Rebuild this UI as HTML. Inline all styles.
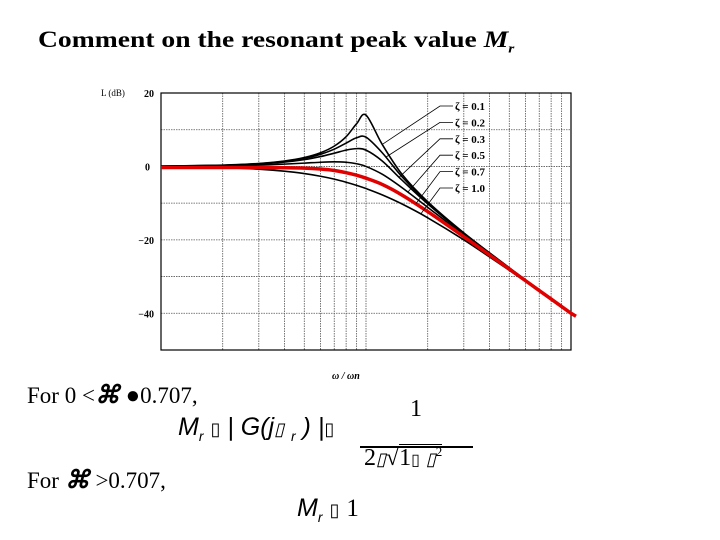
<!DOCTYPE html>
<html><head><meta charset="utf-8"><style>
body{margin:0;background:#fff;}
#root{position:relative;width:720px;height:540px;overflow:hidden;background:#fff;font-family:"Liberation Serif",serif;}
.t{position:absolute;white-space:nowrap;color:#000;}
</style></head><body>
<div id="root">
<div class="t" style="left:38px;top:27px;font-size:23px;font-weight:bold;transform-origin:0 0;transform:scaleX(1.2);">Comment on the resonant peak value <i>M<sub style="font-size:13px">r</sub></i></div>
<svg id="chart" width="720" height="540" style="position:absolute;left:0;top:0"></svg>
<div class="t" style="left:27px;top:380px;font-size:23px;">For 0 &lt;<b><i style="font-size:25px">⌘</i></b> <span style="font-size:24px">●</span>0.707,</div>
<div class="t" style="left:178px;top:413px;font-size:25px;font-family:'Liberation Sans',sans-serif;font-style:italic;">M<sub style="font-size:14px">r</sub> <span style="font-style:normal;font-size:18px">▯</span> | G(j<span style="font-size:18px">▯</span> <sub style="font-size:14px">r</sub> ) |<span style="font-style:normal;font-size:18px">▯</span></div>
<div class="t" style="left:410px;top:396px;font-size:24px;">1</div>
<div style="position:absolute;left:360px;top:446px;width:113px;height:1.5px;background:#000"></div>
<div class="t" style="left:364px;top:444px;font-size:24px;">2<i style="font-size:18px">▯</i>√<span style="border-top:1.5px solid #000">1<span style="font-size:16px">▯</span> <i style="font-size:18px">▯</i><sup style="font-size:13px">2</sup></span></div>
<div class="t" style="left:27px;top:465px;font-size:23px;">For <b><i style="font-size:25px">⌘</i></b> &gt;0.707,</div>
<div class="t" style="left:297px;top:494px;font-size:25px;font-family:'Liberation Sans',sans-serif;font-style:italic;">M<sub style="font-size:14px">r</sub> <span style="font-style:normal;font-size:18px">▯</span> <span style="font-family:'Liberation Serif',serif;font-style:normal">1</span></div>
</div>
<script>
const freqs=[0.1,0.2,0.3,0.4,0.5,0.6,0.7,0.8,0.9,1.0,1.2,1.5,2,3,5,7,10];
const zetaLabels=["ζ = 0.1","ζ = 0.2","ζ = 0.3","ζ = 0.5","ζ = 0.7","ζ = 1.0"];
const s01=[0.09,0.35,0.80,1.48,2.42,3.73,5.53,8.09,11.64,13.98,6.0,-2.18,-9.62,-18.09,-27.6,-33.6,-39.9];
const s02=[0.08,0.32,0.74,1.36,2.2,3.3,4.7,6.35,7.8,7.96,3.73,-2.84,-9.84,-18.16,-27.63,-33.64,-39.92];
const s03=[0.07,0.29,0.65,1.17,1.85,2.68,3.6,4.44,4.85,4.44,1.48,-3.75,-10.19,-18.28,-27.67,-33.66,-39.93];
const s05=[0.04,0.17,0.37,0.63,0.9,1.14,1.25,1.14,0.73,0,-2.13,-5.81,-11.14,-18.63,-27.79,-33.72,-39.96];
const s07=[-0.3,-0.3,-0.3,-0.35,-0.45,-0.7,-1.1,-1.7,-2.4,-3.2,-4.9,-7.8,-12.3,-19.14,-27.97,-33.8,-40];
const s10=[-0.09,-0.34,-0.75,-1.29,-1.94,-2.67,-3.46,-4.3,-5.15,-6.02,-7.75,-10.24,-13.98,-20,-28.3,-33.98,-40.09];
const yTicks=[20,0,-20,-40];
const NS="http://www.w3.org/2000/svg";
const svg=document.getElementById('chart');
const L=161,R=571,T=93,B=350;
const xs=f=>L+(Math.log10(f)+1)/2*(R-L);
const ys=d=>T+(20-d)/70*(B-T);
function mk(t,a){const e=document.createElementNS(NS,t);for(const k in a)e.setAttribute(k,a[k]);svg.appendChild(e);return e;}
for(let dec=0.1;dec<5;dec*=10){for(let m=2;m<=10;m++){const f=dec*m;if(f>=10)break;
const g=mk('line',{x1:xs(f),x2:xs(f),y1:T,y2:B,stroke:'#555','stroke-width':0.8,'stroke-dasharray':'1.5,1'});
}}
for(let d=10;d>-50;d-=10){const g=mk('line',{x1:L,x2:R,y1:ys(d),y2:ys(d),stroke:'#555','stroke-width':0.8,'stroke-dasharray':'1.5,1'});
}
const fr=mk('rect',{x:L,y:T,width:R-L,height:B-T,fill:'none',stroke:'#000','stroke-width':1.2});

yTicks.forEach(v=>{const t=mk('text',{x:v===0?150:154,y:ys(v)+4,'text-anchor':'end','font-size':10,'font-weight':'bold','font-family':'Liberation Serif'});t.textContent=v<0?'−'+(-v):String(v);
});
const yl=mk('text',{x:101,y:96,'font-size':9,'font-family':'Liberation Serif'});yl.textContent='L (dB)';

const xl=mk('text',{x:332,y:379,'font-size':10,'font-weight':'bold','font-style':'italic','font-family':'Liberation Serif'});xl.textContent='ω / ωn';

function pathFor(vals){const p=freqs.map((f,i)=>[xs(f),ys(vals[i])]);let d='M'+p[0][0]+','+p[0][1];
for(let i=0;i<p.length-1;i++){const p0=p[i-1]||p[i],p1=p[i],p2=p[i+1],p3=p[i+2]||p[i+1];
d+=' C'+(p1[0]+(p2[0]-p0[0])/6)+','+(p1[1]+(p2[1]-p0[1])/6)+' '+(p2[0]-(p3[0]-p1[0])/6)+','+(p2[1]-(p3[1]-p1[1])/6)+' '+p2[0]+','+p2[1];}return d;}
const series=[s01,s02,s03,s05,s07,s10];
const names=['curve-zeta-0-1','curve-zeta-0-2','curve-zeta-0-3','curve-zeta-0-5','curve-zeta-0-7','curve-zeta-1-0'];
const anchorF=[1.2,1.25,1.45,1.6,1.75,1.85];
series.forEach((s,i)=>{const e=mk('path',{d:pathFor(s),fill:'none',stroke:'#000','stroke-width':1.6});
});
const red=mk('path',{d:pathFor(s07)+' L'+(xs(10)+5)+','+(ys(-40)+3),fill:'none',stroke:'#e00000','stroke-width':3.5});

zetaLabels.forEach((lab,i)=>{const ly=106+i*16.4;
const fi=freqs.findIndex(f=>f>=anchorF[i]);const ax=xs(anchorF[i]);
const v=series[i][fi-1]+(series[i][fi]-series[i][fi-1])*(Math.log10(anchorF[i]/freqs[fi-1])/Math.log10(freqs[fi]/freqs[fi-1]));
const ln=mk('polyline',{points:ax+','+ys(v)+' 440,'+ly+' 453,'+ly,fill:'none',stroke:'#000','stroke-width':0.8});

const t=mk('text',{x:455,y:ly+4,'font-size':11,'font-weight':'bold','font-family':'Liberation Serif'});t.textContent=lab;
});
</script>
</body></html>
